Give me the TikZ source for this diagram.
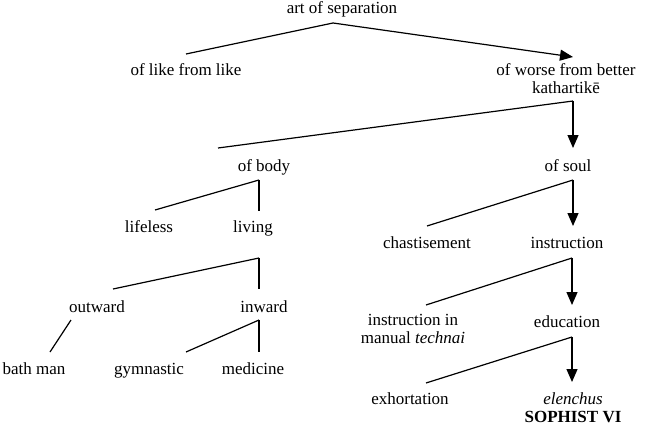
\documentclass[tikz,border=0pt]{standalone}
\usepackage{fontspec}
\setmainfont{Liberation Serif}
\usetikzlibrary{arrows.meta}
\tikzset{
  term/.style={anchor=base, inner sep=0pt, align=center, font=\fontsize{17}{18}\selectfont},
  branch/.style={line width=1.2pt},
  pick/.style={branch, -{Triangle[length=13pt,width=11pt]}}
}
\begin{document}
\begin{tikzpicture}[x=1pt, y=-1pt]
    \useasboundingbox (0,0) rectangle (645,428);

    % Terms of the division (base = last line)
    \node[term] (sep) at (342,14) {art of separation};
    \node[term] (like) at (186,76) {of like from like};
    \node[term] (worse) at (566,93) {of worse from better\\kathartikē};
    \node[term] (body) at (264,171) {of body};
    \node[term] (soul) at (568,171) {of soul};
    \node[term] (lifeless) at (149,232) {lifeless};
    \node[term] (living) at (253,232) {living};
    \node[term] (chast) at (427,248) {chastisement};
    \node[term] (instr) at (567,248) {instruction};
    \node[term] (outward) at (97,312) {outward};
    \node[term] (inward) at (264,312) {inward};
    \node[term] (manual) at (413,343) {instruction in\\manual \textit{technai}};
    \node[term] (educ) at (567,327) {education};
    \node[term] (bath) at (34,374) {bath man};
    \node[term] (gymn) at (149,374) {gymnastic};
    \node[term] (med) at (253,374) {medicine};
    \node[term] (exhort) at (410,404) {exhortation};
    \node[term] (elench) at (573,422) {\textit{elenchus}\\\textbf{SOPHIST VI}};

    % Branch points
    \coordinate (sep-j) at (333,23);
    \coordinate (like-e) at (186,54);
    \coordinate (worse-e) at (573,57);
    \coordinate (worse-j) at (573,101);
    \coordinate (body-e) at (218,148);
    \coordinate (soul-e) at (573,148);
    \coordinate (body-j) at (259,180);
    \coordinate (lifeless-e) at (155,210);
    \coordinate (living-e) at (259,211);
    \coordinate (soul-j) at (573,180);
    \coordinate (chast-e) at (427,226);
    \coordinate (instr-e) at (573,226);
    \coordinate (living-j) at (259,258);
    \coordinate (outward-e) at (113,289);
    \coordinate (inward-e) at (259,289);
    \coordinate (instr-j) at (572,258);
    \coordinate (manual-e) at (426,305);
    \coordinate (educ-e) at (572,305);
    \coordinate (outward-j) at (71,320);
    \coordinate (bath-e) at (50,352);
    \coordinate (inward-j) at (259,320);
    \coordinate (gymn-e) at (186,352);
    \coordinate (med-e) at (259,352);
    \coordinate (educ-j) at (572,337);
    \coordinate (exhort-e) at (426,383);
    \coordinate (elench-e) at (572,382);

    % Divisions
    \draw[branch] (sep-j) -- (like-e);
    \draw[pick] (sep-j) -- (worse-e);
    \draw[branch] (worse-j) -- (body-e);
    \draw[pick] (worse-j) -- (soul-e);
    \draw[branch] (body-j) -- (lifeless-e);
    \draw[branch] (body-j) -- (living-e);
    \draw[branch] (soul-j) -- (chast-e);
    \draw[pick] (soul-j) -- (instr-e);
    \draw[branch] (living-j) -- (outward-e);
    \draw[branch] (living-j) -- (inward-e);
    \draw[branch] (instr-j) -- (manual-e);
    \draw[pick] (instr-j) -- (educ-e);
    \draw[branch] (outward-j) -- (bath-e);
    \draw[branch] (inward-j) -- (gymn-e);
    \draw[branch] (inward-j) -- (med-e);
    \draw[branch] (educ-j) -- (exhort-e);
    \draw[pick] (educ-j) -- (elench-e);
\end{tikzpicture}
\end{document}
